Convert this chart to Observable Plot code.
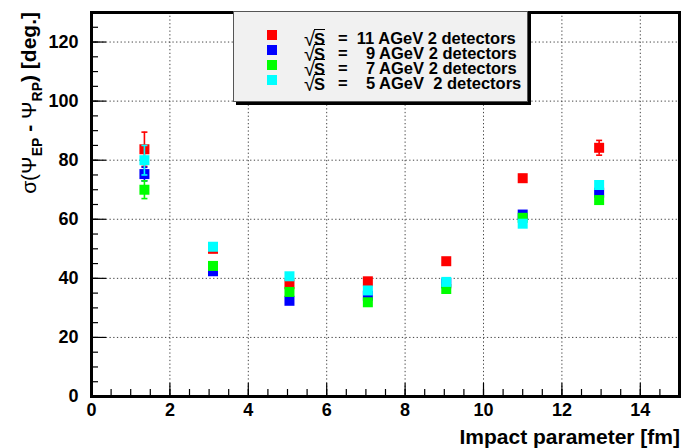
<!DOCTYPE html>
<html>
<head>
<meta charset="utf-8">
<script src="https://cdn.jsdelivr.net/npm/d3@7"></script>
<script src="https://cdn.jsdelivr.net/npm/@observablehq/plot@0.6"></script>
<style>
  html, body { margin: 0; padding: 0; background: #fff; }
  #wrap { position: relative; width: 681px; height: 448px; font-family: "Liberation Sans", Arial, sans-serif; }
  #legend { position: absolute; left: 233px; top: 11px; width: 293px; height: 89px;
    background: #f1f1f1; border: 1px solid #555; box-shadow: 3px 3px 0 #000; }
  .row { position: absolute; left: 0; height: 15px; line-height: 15px; font-weight: bold; font-size: 16.5px; color: #000; }
  .sw { position: absolute; left: 33px; width: 10px; height: 10px; }
  .rad { position: absolute; left: 70px; top: 0px; white-space: pre; line-height: 15px; }
  .rad .r { font-size: 20px; font-weight: normal; position: relative; top: 1px; }
  .rad .s { border-top: 1.5px solid #000; position: relative; left: -1px; }
  .txt { position: absolute; left: 104px; top: 0px; white-space: pre; line-height: 15px; }
</style>
</head>
<body>
<div id="wrap"></div>
<script>
// impact parameter [fm]
const impact = [1.35, 3.1, 5.05, 7.05, 9.05, 11.0, 12.95];
// sigma(Psi_EP - Psi_RP) [deg.] per energy
const y11 = [83.7, 50.0, 38.0, 39.0, 45.8, 73.9, 84.2];
const e11 = [5.8, 1.2, 1.0, 1.0, 1.0, 1.2, 2.5];
const y9  = [75.3, 42.4, 32.4, 34.1, 38.3, 61.6, 69.0];
const e9  = [2.3, 1.0, 1.0, 1.0, 1.0, 1.0, 1.2];
const y7  = [70.0, 44.2, 35.4, 31.9, 36.4, 60.5, 66.5];
const e7  = [3.0, 1.0, 1.0, 1.0, 1.0, 1.0, 1.2];
const y5  = [80.0, 50.7, 40.7, 35.9, 38.8, 58.5, 71.6];
const e5  = [5.0, 1.2, 1.0, 1.0, 1.0, 1.0, 1.2];
const seriesNames = ["11 AGeV", "9 AGeV", "7 AGeV", "5 AGeV"];
const legendTexts = ["=  11 AGeV 2 detectors", "=    9 AGeV 2 detectors", "=    7 AGeV 2 detectors", "=    5 AGeV  2 detectors"];
const colors = ["#ff0000", "#0000ff", "#00ff00", "#00ffff"];
const xMajor = [0, 2, 4, 6, 8, 10, 12, 14];
const xMinor = d3.range(0, 15.01, 0.5);
const yMajor = [0, 20, 40, 60, 80, 100, 120];
const yMinor = d3.range(0, 130.01, 5);

const W = 681, H = 448, mL = 91, mR = 2, mT = 12, mB = 52;
const plotW = W - mL - mR, plotH = H - mT - mB;
const font = "'Liberation Sans', Arial, sans-serif";

const ys = [y11, y9, y7, y5], es = [e11, e9, e7, e5];
const rows = [];
ys.forEach((arr, s) => arr.forEach((v, i) => rows.push({s, name: seriesNames[s], x: impact[i], y: v, e: es[s][i]})));

const capSymbol = { draw(ctx, size) { const w = 3; ctx.moveTo(-w, 0); ctx.lineTo(w, 0); } };
const squareSym = { draw(ctx, size) { const h = 5; ctx.moveTo(-h, -h); ctx.lineTo(h, -h); ctx.lineTo(h, h); ctx.lineTo(-h, h); ctx.closePath(); } };

const seriesMarks = [];
for (let s = 0; s < 4; s++) {
  const d = rows.filter(r => r.s === s);
  seriesMarks.push(
    Plot.dot(d, {x: "x", y: "y", symbol: squareSym, fill: colors[s], stroke: null, r: 5}),
    Plot.ruleX(d, {x: "x", y1: r => r.y - r.e, y2: r => r.y + r.e, stroke: colors[s], strokeWidth: 1.6}),
    Plot.dot(d, {x: "x", y: r => r.y - r.e, symbol: capSymbol, stroke: colors[s], strokeWidth: 1.6, r: 3}),
    Plot.dot(d, {x: "x", y: r => r.y + r.e, symbol: capSymbol, stroke: colors[s], strokeWidth: 1.6, r: 3})
  );
}

const chart = Plot.plot({
  width: W, height: H,
  marginLeft: mL, marginRight: mR, marginTop: mT, marginBottom: mB,
  style: {fontFamily: font, background: "#fff"},
  x: {domain: [0, 15]},
  y: {domain: [0, 130]},
  marks: [
    Plot.gridX(xMajor.filter(v => v > 0), {stroke: "#444", strokeOpacity: 1, strokeDasharray: "1.3,2.4", strokeWidth: 1}),
    Plot.gridY(yMajor.filter(v => v > 0), {stroke: "#444", strokeOpacity: 1, strokeDasharray: "1.3,2.4", strokeWidth: 1}),
    Plot.tickY(yMinor, {y: d => d, insetRight: plotW - 7, stroke: "#000", strokeWidth: 1.2}),
    Plot.tickY(yMajor, {y: d => d, insetRight: plotW - 15, stroke: "#000", strokeWidth: 1.2}),
    Plot.tickX(xMinor, {x: d => d, insetTop: plotH - 7, stroke: "#000", strokeWidth: 1.2}),
    Plot.tickX(xMajor, {x: d => d, insetTop: plotH - 13, stroke: "#000", strokeWidth: 1.2}),
    Plot.axisY(yMajor, {tickSize: 0, tickPadding: 13, label: null, fontSize: 18, fontWeight: "bold", fill: "#000"}),
    Plot.axisX(xMajor, {tickSize: 0, tickPadding: 7, label: null, fontSize: 18, fontWeight: "bold", fill: "#000"}),
    ...seriesMarks,
    Plot.frame({stroke: "#000", strokeWidth: 3})
  ]
});

const svg = d3.select(chart);
// x-axis title
svg.append("text")
  .attr("x", 680).attr("y", 444)
  .attr("text-anchor", "end")
  .attr("font-family", font).attr("font-size", 21).attr("font-weight", "bold")
  .attr("fill", "#000")
  .text("Impact parameter [fm]");
// y-axis title
const yt = svg.append("text")
  .attr("transform", "translate(36,12) rotate(-90)")
  .attr("text-anchor", "end")
  .attr("font-family", font).attr("font-size", 21).attr("font-weight", "bold")
  .attr("fill", "#000");
yt.append("tspan").attr("font-weight", "normal").text("σ(Ψ");
yt.append("tspan").attr("font-size", 14).attr("dy", 6).text("EP");
yt.append("tspan").attr("dy", -6).text(" - ");
yt.append("tspan").attr("font-weight", "normal").text("Ψ");
yt.append("tspan").attr("font-size", 14).attr("dy", 6).text("RP");
yt.append("tspan").attr("dy", -6).text(") [deg.]");

const wrap = document.getElementById("wrap");
wrap.appendChild(chart);
chart.style.position = "absolute"; chart.style.left = "0"; chart.style.top = "0";

// legend
const leg = document.createElement("div");
leg.id = "legend";
seriesNames.forEach((n, i) => {
  const row = document.createElement("div");
  row.className = "row";
  row.style.top = (19 + i * 15) + "px";
  row.innerHTML = `<div class="sw" style="top:${-1}px;background:${colors[i]}"></div>` +
    `<span class="rad"><span class="r">√</span><span class="s">S</span></span>` +
    `<span class="txt">${legendTexts[i]}</span>`;
  leg.appendChild(row);
});
wrap.appendChild(leg);
</script>
</body>
</html>
